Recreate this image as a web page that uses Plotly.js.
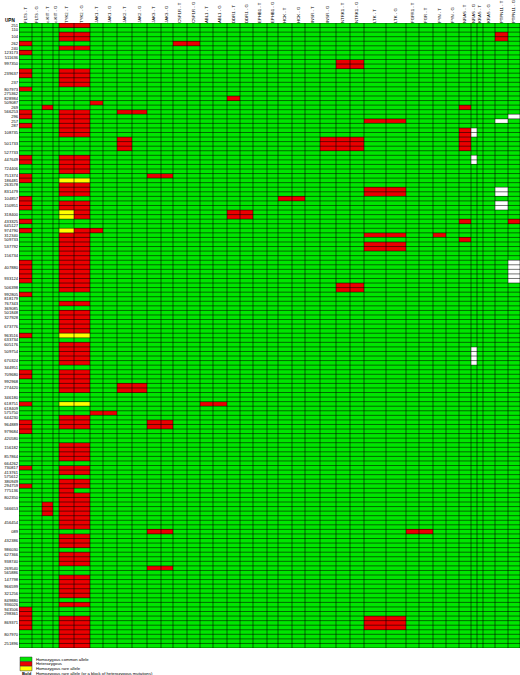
<!DOCTYPE html>
<html><head><meta charset="utf-8">
<script src="https://cdn.plot.ly/plotly-3.0.1.min.js"></script>
<style>html,body{margin:0;padding:0;background:#fff}#chart{width:520px;height:675px}</style>
</head><body><div id="chart"></div>
<script>
// ---------- data ----------
const genes = ["FLT3 - T","FLT3 - G","c-KIT - T","c-KIT - G","TYK2 - T","TYK2 - G","JAK1 - T","JAK1 - G",
  "JAK2 - T","JAK2 - G","JAK3 - T","JAK3 - G","CSF1R - T","CSF1R - G","ABL1 - T","ABL1 - G","DDR1 - T","DDR1 - G",
  "EPHB1 - T","EPHB1 - G","HCK - T","HCK - G","INSR - T","INSR - G","NTRK1 - T","NTRK1 - G","LTK - T","LTK - G",
  "FGFR1 - T","FGR - T","FYN - T","FYN - G","NRAS - T","NRAS - G","KRAS - T","KRAS - G","PTPN11 - T","PTPN11 - G"];

const upn = ["251","110","104","262","240","123173","511636","997350","239637","237",
  "807973","275362","828984","509087","269","566253","296","257","287","108735",
  "501733","527733","447649","724406","751374","186481","263578","831479","104857","150951",
  "318400","433325","645127","974790","312340","509733","537792","156734","407880","933124",
  "506398","992805","818179","767343","369085","501848","327928","673776","963516","633734",
  "605176","509754","670324","344951","709680","992968","274420","346180","618751","618409",
  "575750","644230","964889","979684","420580","156182","857864","664262","730817","413761",
  "575612","380949","294759","775136","802350","566653","456454","089","432386","986030",
  "627366","938740","269540","565886","147798","966599","321256","849880","936026","943506",
  "298361","869371","807970","251896"];

// number of spreadsheet lines used by each UPN
const upnLines = [1,1,2,1,1,1,1,2,2,2, 1,1,1,1,1,1,1,1,1,2, 3,1,2,2,1,1,1,2,1,2,
  2,1,1,1,1,1,2,2,3,2, 2,1,1,1,1,1,1,3,1,1, 1,2,2,1,2,1,2,2,1,1,
  1,1,2,1,2,2,2,1,1,1, 1,1,1,1,2,3,3,1,3,1, 1,2,1,1,2,1,2,1,1,1, 1,3,2,2];

const TY = ["TYK2 - T","TYK2 - G"];
// heterozygous calls (red)
const heterozygous = [
  ["251",TY],["104",[...TY,"PTPN11 - T"]],["262",["FLT3 - T","CSF1R - T","CSF1R - G"]],["240",TY],
  ["123173",["FLT3 - T"]],["997350",["NTRK1 - T","NTRK1 - G"]],["239637",["FLT3 - T",...TY]],["237",TY],
  ["807973",["FLT3 - T"]],["828984",["DDR1 - T"]],["509087",["JAK1 - T"]],["269",["c-KIT - T","NRAS - T"]],
  ["566253",["FLT3 - T",...TY,"JAK2 - T","JAK2 - G"]],["296",["FLT3 - T",...TY]],["257",[...TY,"LTK - T","LTK - G"]],
  ["287",["FLT3 - T",...TY]],["108735",[...TY,"NRAS - T"]],
  ["501733",["JAK2 - T","INSR - G","NTRK1 - T","NTRK1 - G","NRAS - T"]],
  ["447649",["FLT3 - T",...TY]],["724406",TY],["751374",["FLT3 - T","JAK3 - T","JAK3 - G"]],
  ["186481",["FLT3 - T"]],["263578",TY],["831479",[...TY,"LTK - T","LTK - G"]],
  ["104857",["FLT3 - T","HCK - T","HCK - G"]],["150951",["FLT3 - T",...TY]],
  ["318400",["TYK2 - G","DDR1 - T","DDR1 - G"]],["433325",["FLT3 - T","NRAS - T","PTPN11 - G"]],
  ["974790",["FLT3 - T","TYK2 - G","JAK1 - T"]],["312340",[...TY,"LTK - T","LTK - G","FYN - T"]],
  ["509733",[...TY,"NRAS - T"]],["537792",[...TY,"LTK - T","LTK - G"]],["156734",TY],
  ["407880",["FLT3 - T",...TY]],["933124",["FLT3 - T",...TY]],["506398",[...TY,"NTRK1 - T","NTRK1 - G"]],
  ["992805",["FLT3 - T"]],
  ["767343",TY],["501848",TY],["327928",TY],["673776",TY],["963516",["FLT3 - T"]],
  ["605176",TY],["509754",TY],["670324",TY],["709680",["FLT3 - T",...TY]],["992968",TY],
  ["274420",[...TY,"JAK2 - T","JAK2 - G"]],["618751",["FLT3 - T","ABL1 - T","ABL1 - G"]],
  ["575750",["JAK1 - T","JAK1 - G"]],["644230",TY],["964889",["FLT3 - T",...TY,"JAK3 - T","JAK3 - G"]],
  ["979684",["FLT3 - T"]],["156182",TY],["857864",TY],["730817",["FLT3 - T",...TY]],["413761",TY],
  ["380949",TY],["294759",["FLT3 - T",...TY]],["775136",["TYK2 - T"]],["802350",TY],
  ["566653",["c-KIT - T",...TY]],["456454",TY],["089",["JAK3 - T","JAK3 - G","FGFR1 - T","FGR - T"]],["432386",TY],
  ["627366",TY],["938740",TY],["269540",["JAK3 - T","JAK3 - G"]],["147798",TY],["966599",TY],
  ["321256",TY],["936026",TY],["943506",["FLT3 - T"]],["298361",["FLT3 - T"]],
  ["869371",["FLT3 - T",...TY,"LTK - T","LTK - G"]],["807970",TY],["251896",TY]
];
// homozygous rare allele (yellow)
const homozygousRare = [
  ["186481",TY],["318400",["TYK2 - T"]],["974790",["TYK2 - T"]],["963516",TY],["618751",TY]
];
// no call (white)
const noCall = [
  ["296",["PTPN11 - G"]],["257",["PTPN11 - T"]],["108735",["NRAS - G"]],["447649",["NRAS - G"]],
  ["831479",["PTPN11 - T"]],["150951",["PTPN11 - T"]],["407880",["PTPN11 - G"]],["933124",["PTPN11 - G"]],
  ["509754",["NRAS - G"]],["670324",["NRAS - G"]]
];

const legendColors = ["rgb(0,230,0)","rgb(235,0,0)","rgb(255,255,0)"];
const legendLabels = ["Homozygous common allele","Heterozygous","Homozygous rare allele",
  "Homozygous rare allele (or a block of heterozygous mutations)"];

// ---------- layout constants (pixel widths of spreadsheet columns) ----------
const colWidth = [13,10,11,6,15,16,13,14,15,15,14,12,14,13,13,14,13,13,14,11,14,13,15,16,14,14,22,20,13,14,13,13,12,6,6,12,13,12];

// ---------- build ----------
const xEdges = [0]; colWidth.forEach(w => xEdges.push(xEdges[xEdges.length-1] + w));
const xMid = colWidth.map((w,i) => xEdges[i] + w/2);
const upnStart = []; let acc = 0;
upnLines.forEach(n => { upnStart.push(acc); acc += n; });
const nLines = acc;
const yEdges = []; for (let i = 0; i <= nLines; i++) yEdges.push(i);
const z = []; for (let r = 0; r < nLines; r++) z.push(new Array(genes.length).fill(0));
function paint(list, code) {
  list.forEach(([u, gs]) => {
    const k = upn.indexOf(u);
    gs.forEach(g => {
      const c = genes.indexOf(g);
      for (let r = upnStart[k]; r < upnStart[k] + upnLines[k]; r++) z[r][c] = code;
    });
  });
}
paint(heterozygous, 1); paint(homozygousRare, 2); paint(noCall, 3);

const G = legendColors[0], R = legendColors[1], Y = legendColors[2], W = "#ffffff";
const heat = {
  type: "heatmap", x: xEdges, y: yEdges, z: z, zmin: 0, zmax: 3,
  colorscale: [[0,G],[0.25,G],[0.25,R],[0.5,R],[0.5,Y],[0.75,Y],[0.75,W],[1,W]],
  showscale: false, hoverinfo: "skip", zsmooth: false
};
const gx = [], gy = [];
xEdges.forEach(e => { gx.push(e, e, null); gy.push(0, nLines, null); });
yEdges.forEach(e => { gx.push(0, xEdges[xEdges.length-1], null); gy.push(e, e, null); });
const grid = { type: "scatter", mode: "lines", x: gx, y: gy, hoverinfo: "skip",
  line: { color: "rgba(0,0,0,0.55)", width: 1 }, showlegend: false };

const L = 19, T = 23, B = 27, PW = 520 - L, PH = 675 - T - B;
const px = v => (v - L) / PW, py = v => (675 - B - v) / PH;
const FONT = "Liberation Sans, Arial";
const shapes = [], annotations = [];
legendColors.forEach((c, i) => {
  shapes.push({ type: "rect", xref: "paper", yref: "paper", x0: px(20), x1: px(32),
    y0: py(657 + i*4.6 + 4.6), y1: py(657 + i*4.6), fillcolor: c, line: { color: "#333", width: 0.5 } });
});
legendLabels.forEach((t, i) => {
  annotations.push({ xref: "paper", yref: "paper", x: px(34), y: py(659.3 + i*4.6), xanchor: "left", yanchor: "middle",
    text: t, showarrow: false, font: { size: 4.2, color: "#000", family: FONT } });
});
annotations.push({ xref: "paper", yref: "paper", x: px(20), y: py(673.1), xanchor: "left", yanchor: "middle",
  text: "<b>Bold</b>", showarrow: false, font: { size: 4.2, color: "#000", family: FONT } });
annotations.push({ xref: "paper", yref: "paper", x: px(17), y: py(20.5), xanchor: "right", yanchor: "middle",
  text: "<b>UPN</b>", showarrow: false, font: { size: 4.6, color: "#000", family: FONT } });

const layout = {
  width: 520, height: 675, margin: { l: L, r: 0, t: T, b: B, pad: 0 },
  paper_bgcolor: "#fff", plot_bgcolor: "#fff", showlegend: false,
  font: { family: FONT, size: 4.2, color: "#000" },
  xaxis: { range: [0, xEdges[xEdges.length-1]], side: "top", tickmode: "array", tickvals: xMid, ticktext: genes,
    tickangle: -90, ticks: "", showgrid: false, zeroline: false, showline: false, fixedrange: true,
    ticklabelstandoff: -1, tickfont: { size: 4.3, family: FONT } },
  yaxis: { range: [nLines, 0], tickmode: "array", tickvals: upnStart.map((s,i) => s + upnLines[i]/2), ticktext: upn,
    ticks: "", showgrid: false, zeroline: false, showline: false, fixedrange: true,
    tickfont: { size: 4.1, family: FONT } },
  shapes: shapes, annotations: annotations
};
Plotly.newPlot("chart", [heat, grid], layout, { displayModeBar: false, staticPlot: true });
</script></body></html>
